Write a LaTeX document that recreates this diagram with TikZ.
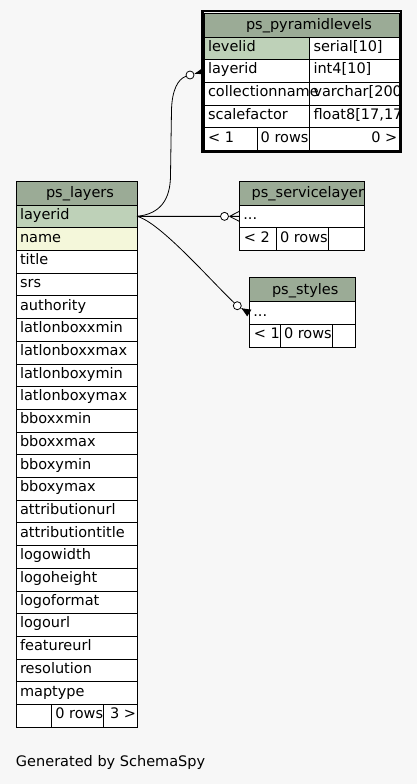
\documentclass[tikz,border=0pt]{standalone}
\usepackage{fontspec}
\setmainfont{DejaVu Sans}
\usetikzlibrary{calc}
\definecolor{bg}{HTML}{F7F7F7}
\definecolor{hdr}{HTML}{9BAB96}
\definecolor{pk}{HTML}{BED1B8}
\definecolor{idx}{HTML}{F4F7DA}
\newcommand\crowlines[3]{%
  \coordinate (cra) at ($(#1)!5pt!(#2)$);
  \draw[conn] (cra) -- (#2) (cra) -- ($(#2)!#3!90:(cra)$) (cra) -- ($(#2)!#3!-90:(cra)$);
}
\newcommand\crowfilled[3]{%
  \coordinate (cra) at ($(#1)!5pt!(#2)$);
  \fill[black] (cra) -- ($(#2)!#3!90:(cra)$) -- ($(#2)!#3!-90:(cra)$) -- cycle;
  \draw[conn] (cra) -- (#2);
}
\begin{document}
\begin{tikzpicture}[x=1pt,y=-1pt,font=\fontsize{14.5}{17}\selectfont,
  cell/.style={draw=black,line width=0.8pt,fill=white,anchor=north west,inner sep=0pt,outer sep=0pt,minimum height=22.7pt},
  head/.style={cell,fill=hdr},
  txt/.style={anchor=base west,inner sep=0pt,outer sep=0pt},
  rtxt/.style={anchor=base east,inner sep=0pt,outer sep=0pt},
  conn/.style={draw=black,line width=0.8pt},
  ring/.style={circle,draw=black,line width=0.8pt,fill=white,minimum size=8pt,inner sep=0pt}]
\fill[bg] (0,0) rectangle (417,784);
\useasboundingbox (0,0) rectangle (417,784);

% ---------------- ps_layers ----------------
\node[head,minimum width=121pt,minimum height=23.5pt] (LH) at (16,181.5) {};
\node[txt] (LHt) at (46,197.5) {ps\_layers};
\node[cell,fill=pk,minimum width=121pt] (L0) at (16,205) {};
\node[txt] (L0t) at ($(L0.north west)+(4,14.3)$) {layerid};
\node[cell,fill=idx,minimum width=121pt] (L1) at (16,227.7) {};
\node[txt] (L1t) at ($(L1.north west)+(4,14.3)$) {name};
\foreach \n [count=\i from 2] in {title,srs,authority,latlonboxxmin,latlonboxxmax,latlonboxymin,latlonboxymax,bboxxmin,bboxxmax,bboxymin,bboxymax,attributionurl,attributiontitle,logowidth,logoheight,logoformat,logourl,featureurl,resolution,maptype}{
  \node[cell,minimum width=121pt] (L\i) at (16,{205+22.7*\i}) {};
  \node[txt] (L\i t) at ($(L\i.north west)+(4,14.3)$) {\n};
}
\node[cell,minimum width=35.3pt] (LF1) at (16,704.4) {};
\node[cell,minimum width=52.4pt] (LF2) at (51.3,704.4) {};
\node[cell,minimum width=33.3pt] (LF3) at (103.7,704.4) {};
\node[txt] (LF2t) at ($(LF2.north west)+(4,14.3)$) {0 rows};
\node[rtxt] (LF3t) at ($(LF3.north east)+(-1,14.3)$) {3 >};

% ---------------- ps_pyramidlevels ----------------
\node[head,minimum width=195pt,minimum height=24pt] (PH) at (204,13) {};
\node[cell,fill=pk,minimum width=105.3pt] (Pn1) at (204,37) {};
\node[cell,minimum width=89.7pt] (Pt1) at (309.3,37) {};
\node[cell,minimum width=105.3pt] (Pn2) at (204,59.7) {};
\node[cell,minimum width=89.7pt] (Pt2) at (309.3,59.7) {};
\node[cell,minimum width=105.3pt] (Pn3) at (204,82.4) {};
\node[cell,minimum width=89.7pt] (Pt3) at (309.3,82.4) {};
\node[cell,minimum width=105.3pt] (Pn4) at (204,105.1) {};
\node[cell,minimum width=89.7pt] (Pt4) at (309.3,105.1) {};
\node[cell,minimum width=53.3pt] (PF1) at (204,127.8) {};
\node[cell,minimum width=52pt] (PF2) at (257.3,127.8) {};
\node[cell,minimum width=89.7pt] (PF3) at (309.3,127.8) {};
\begin{scope}
  \clip (204,13) rectangle (399,150.5);
  \node[txt] (PHt) at (246,29.5) {ps\_pyramidlevels};
  \node[txt] (Pn1t) at ($(Pn1.north west)+(4,14.3)$) {levelid};
  \node[txt] (Pn2t) at ($(Pn2.north west)+(4,14.3)$) {layerid};
  \node[txt] (Pn3t) at ($(Pn3.north west)+(4,14.3)$) {collectionname};
  \node[txt] (Pn4t) at ($(Pn4.north west)+(4,14.3)$) {scalefactor};
  \node[txt] (Pt1t) at ($(Pt1.north west)+(4.2,14.3)$) {serial[10]};
  \node[txt] (Pt2t) at ($(Pt2.north west)+(4.2,14.3)$) {int4[10]};
  \node[txt] (Pt3t) at ($(Pt3.north west)+(4.2,14.3)$) {varchar[200]};
  \node[txt] (Pt4t) at ($(Pt4.north west)+(4.2,14.3)$) {float8[17,17]};
  \node[txt] (PF1t) at ($(PF1.north west)+(4,14.3)$) {< 1};
  \node[txt] (PF2t) at ($(PF2.north west)+(3.4,14.3)$) {0 rows};
  \node[rtxt] (PF3t) at ($(PF3.north east)+(-1.7,14.3)$) {0 >};
\end{scope}

% ---------------- ps_servicelayer ----------------
\node[head,minimum width=124.7pt,minimum height=24pt] (SH) at (239.3,181) {};
\node[cell,minimum width=124.7pt] (S1) at (239.3,205) {};
\node[cell,minimum width=36.7pt] (SF1) at (239.3,227.7) {};
\node[cell,minimum width=52.3pt] (SF2) at (276,227.7) {};
\node[cell,minimum width=35.7pt] (SF3) at (328.3,227.7) {};
\begin{scope}
  \clip (239.3,181) rectangle (364,250.4);
  \node[txt] (SHt) at (251.7,197.5) {ps\_servicelayer};
\end{scope}
\node[txt] (S1t) at ($(S1.north west)+(4,14.3)$) {...};
\node[txt] (SF1t) at ($(SF1.north west)+(4.5,14.3)$) {< 2};
\node[txt] (SF2t) at ($(SF2.north west)+(4,14.3)$) {0 rows};

% ---------------- ps_styles ----------------
\node[head,minimum width=106pt,minimum height=24.2pt] (TH) at (249.3,277.5) {};
\node[txt] (THt) at (272,294.2) {ps\_styles};
\node[cell,minimum width=106pt] (T1) at (249.3,301.7) {};
\node[cell,minimum width=30.7pt] (TF1) at (249.3,324.4) {};
\node[cell,minimum width=52.3pt] (TF2) at (280,324.4) {};
\node[cell,minimum width=23pt] (TF3) at (332.3,324.4) {};
\node[txt] (T1t) at ($(T1.north west)+(4,14.3)$) {...};
\node[txt] (TF1t) at ($(TF1.north west)+(4.5,14.3)$) {< 1};
\node[txt] (TF2t) at ($(TF2.north west)+(4,14.3)$) {0 rows};

% ---------------- connectors ----------------
\node[ring] (c1) at (190,75) {};
\node[ring] (c2) at (224.5,216.35) {};
\node[ring] (c3) at (237.3,305.7) {};
\draw[conn] (L0.east) .. controls (160,214) and (170.5,200) .. (170.5,175)
  -- (171.5,110) .. controls (172,90) and (178,79) .. (c1);
\draw[conn] (L0.east) -- (c2);
\draw[conn] (L0.east) .. controls (160,222) and (212,282) .. (c3);
\crowfilled{c1}{Pn2.west}{3.5pt}
\crowlines{c2}{S1.west}{5pt}
\crowfilled{c3}{T1.west}{4pt}

% thick border of the focused table
\draw[line width=2.4pt] (202.3,11.3) rectangle (400.7,152.2);

% ---------------- caption ----------------
\node[txt] (gen) at (16,766.7) {Generated by SchemaSpy};
\end{tikzpicture}
\end{document}
